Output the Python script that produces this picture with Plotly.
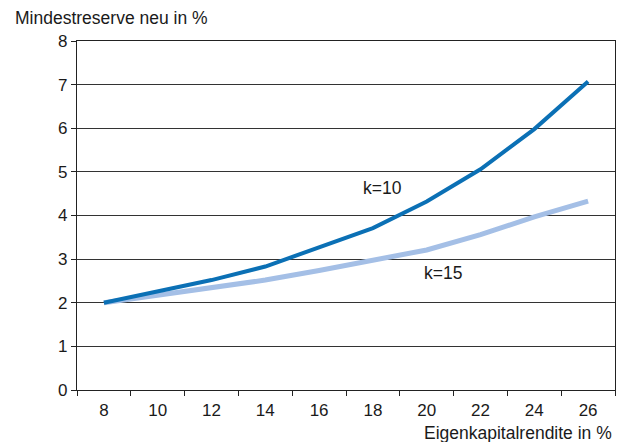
import plotly.graph_objects as go

categories = ["8", "10", "12", "14", "16", "18", "20", "22", "24", "26"]
k10 = [2.0, 2.27, 2.52, 2.83, 3.27, 3.71, 4.32, 5.06, 5.98, 7.07]
k15 = [2.0, 2.17, 2.36, 2.52, 2.74, 2.98, 3.21, 3.56, 3.97, 4.33]
y_ticks = [0, 1, 2, 3, 4, 5, 6, 7, 8]

label_k10 = ("k=10", 5.17, 4.63)
label_k15 = ("k=15", 6.3, 2.68)

FONT = "Liberation Sans, Arial, Helvetica, sans-serif"
TXT = "#1a1a1a"

fig = go.Figure()
fig.add_trace(go.Scatter(x=categories, y=k15, mode="lines", name="k=15",
                         line=dict(color="#a4bfe6", width=5)))
fig.add_trace(go.Scatter(x=categories, y=k10, mode="lines", name="k=10",
                         line=dict(color="#0b70b5", width=4)))

for text, xx, yy in (label_k10, label_k15):
    fig.add_annotation(x=xx, y=yy, text=text, showarrow=False, xref="x", yref="y",
                       font=dict(size=17.5, color=TXT, family=FONT))

fig.update_layout(
    width=620, height=434,
    margin=dict(l=69, r=13, t=33, b=52),
    paper_bgcolor="white", plot_bgcolor="white",
    showlegend=False,
    font=dict(family=FONT, size=17, color=TXT),
)
fig.update_xaxes(
    type="category", tickson="boundaries", ticks="outside", ticklen=5,
    tickcolor="#222", showline=True, linecolor="#222", linewidth=1.2,
    mirror=True, showgrid=False, range=[-0.5, 9.5],
    tickfont=dict(size=17), ticklabelstandoff=4,
)
fig.update_yaxes(
    range=[0, 8], tickvals=y_ticks, ticks="outside", ticklen=5, tickcolor="#222",
    showline=True, linecolor="#222", linewidth=1.2, mirror=True,
    showgrid=True, gridcolor="#333", gridwidth=1, zeroline=False,
    tickfont=dict(size=17),
)
fig.add_annotation(text="Mindestreserve neu in %", xref="paper", yref="paper",
                   x=-0.119, y=1.0, yshift=23, xanchor="left", yanchor="middle",
                   showarrow=False, font=dict(size=17.5, color=TXT, family=FONT))
fig.add_annotation(text="Eigenkapitalrendite in %", xref="paper", yref="paper",
                   x=1.0, y=0, xshift=-1, yshift=-43, xanchor="right", yanchor="middle",
                   showarrow=False, font=dict(size=17.5, color=TXT, family=FONT))

fig.write_html("out.html")
